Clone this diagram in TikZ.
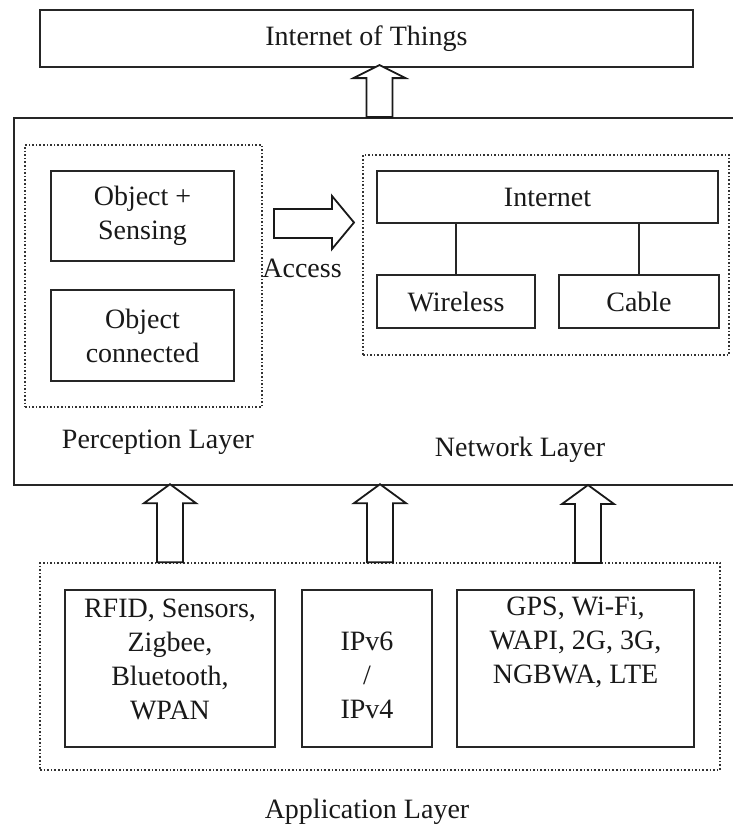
\documentclass[tikz,border=0pt]{standalone}
\usepackage{fontspec}
\setmainfont{Liberation Serif}
\usetikzlibrary{calc}
\newcommand\hollowup[3]{%
 \draw[harrow] ($(#1)+(-13,0)$) -- ($(#1)+(-13,#2)$) -- ($(#1)+(-26,#2)$) -- ($(#1)+(0,#3)$) -- ($(#1)+(26,#2)$) -- ($(#1)+(13,#2)$) -- ($(#1)+(13,0)$) -- cycle;}
\begin{document}
\begin{tikzpicture}[x=0.5pt,y=-0.5pt,
  box/.style={draw=black!85, line width=0.9pt, fill=white, inner sep=0pt, font=\fontsize{14}{17}\selectfont, align=center, text=black!90},
  dotbox/.style={draw=black!80, line width=0.8pt, densely dotted, inner sep=0pt},
  txt/.style={font=\fontsize{14}{17}\selectfont, align=center, inner sep=0pt, text=black!90},
  link/.style={line width=1pt, draw=black!85},
  harrow/.style={draw=black!90, line width=0.9pt, fill=white, line join=miter}]
\useasboundingbox (0,0) rectangle (733,831);
\clip (0,0) rectangle (733,831);
\fill[white] (0,0) rectangle (733,831);

% top
\node[box, minimum width=326.5pt, minimum height=28.5pt] (iot) at (366.5,38.5) {Internet of Things};

% main box (runs off the right edge)
\node[box, minimum width=365.5pt, minimum height=183.5pt] (main) at (379.5,301.5) {};
\hollowup{main.north}{-39}{-52}

% perception layer
\node[dotbox, minimum width=118.5pt, minimum height=131pt] (perc) at (143.5,276) {};
\node[box, minimum width=91.5pt, minimum height=45pt] (obj1) at (142.5,216) {Object +\\Sensing};
\node[box, minimum width=91.5pt, minimum height=45.5pt] (obj2) at (142.5,335.5) {Object\\connected};
\node[txt] (perclbl) at (158,442) {Perception Layer};

% access arrow
\draw[harrow] (274,209) -- (332,209) -- (332,196) -- (354,222.5) -- (332,249) -- (332,238) -- (274,238) -- cycle;
\node[txt] (access) at (302,268) {Access};

% network layer
\node[dotbox, minimum width=183pt, minimum height=100pt] (net) at (546,255) {};
\node[box, minimum width=170.5pt, minimum height=26pt] (internet) at (547.5,197) {Internet};
\node[box, minimum width=79pt, minimum height=26.5pt] (wireless) at (456,301.5) {Wireless};
\node[box, minimum width=80pt, minimum height=26.5pt] (cable) at (639,301.5) {Cable};
\draw[link] (wireless.north) -- (wireless.north |- internet.south);
\draw[link] (cable.north) -- (cable.north |- internet.south);
\node[txt] (netlbl) at (520,450) {Network Layer};

% application layer
\node[dotbox, minimum width=340pt, minimum height=103.5pt] (app) at (380,666.5) {};
\node[box, minimum width=105pt, minimum height=78.5pt] (rfid) at (170,668.5) {};
\node[box, minimum width=65pt, minimum height=78.5pt] (ipv) at (367,668.5) {};
\node[box, minimum width=118.5pt, minimum height=78.5pt] (gps) at (575.5,668.5) {};
\node[txt] (rfidtxt) at (170,659) {RFID, Sensors,\\Zigbee,\\Bluetooth,\\WPAN};
\node[txt] (ipvtxt) at (367,675) {IPv6\\/\\IPv4};
\node[txt] (gpstxt) at (575.5,642) {GPS, Wi-Fi,\\WAPI, 2G, 3G,\\NGBWA, LTE};
\node[txt] (applbl) at (367,812) {Application Layer};

\coordinate (b1) at (rfid.center |- app.north);
\coordinate (b2) at (app.north);
\coordinate (b3) at (588,563);
\hollowup{b1}{-59}{-78}
\hollowup{b2}{-59}{-78}
\hollowup{b3}{-59}{-78}
\end{tikzpicture}
\end{document}
